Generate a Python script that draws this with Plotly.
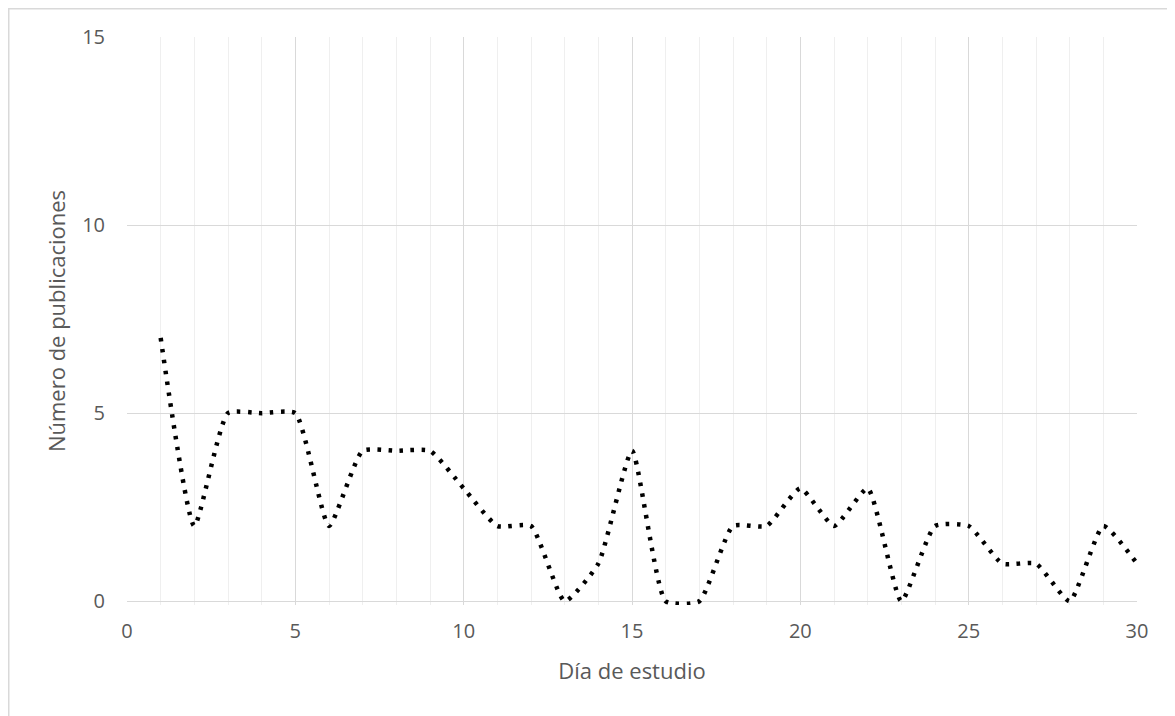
import plotly.graph_objects as go

dias = list(range(1, 31))
publicaciones = [7, 2, 5, 5, 5, 2, 4, 4, 4, 3, 2, 2, 0, 1, 4, 0, 0, 2, 2, 3,
                 2, 3, 0, 2, 2, 1, 1, 0, 2, 1]
x_ticks = [0, 5, 10, 15, 20, 25, 30]
y_ticks = [0, 5, 10, 15]
y_min, y_max = -0.1, 15   # small headroom below 0 so the dotted line is not clipped

# page has an 8px body margin, so the figure is sized/placed accordingly
W, H = 1167, 708
L, R, T, B = 119, 38, 29, 111
pw, ph = W - L - R, H - T - B

fig = go.Figure()
fig.add_trace(go.Scatter(
    x=dias, y=publicaciones, mode="lines",
    line=dict(color="black", width=4.5, dash="3.5px,7.5px", shape="spline", smoothing=0.5),
    cliponaxis=False, showlegend=False, hoverinfo="x+y",
))

font_family = "Open Sans, Liberation Sans, sans-serif"
fig.update_layout(
    width=W, height=H,
    margin=dict(l=L, r=R, t=T, b=B),
    paper_bgcolor="white", plot_bgcolor="white",
    font=dict(family=font_family, color="#595959", size=16),
    xaxis=dict(
        range=[0, 30], tickvals=x_ticks, ticktext=[str(v) for v in x_ticks],
        showgrid=True, gridcolor="#d9d9d9", gridwidth=1.3,
        minor=dict(dtick=1, tick0=0, showgrid=True, gridcolor="#efefef", gridwidth=1),
        zeroline=False, showline=False,
        ticks="", tickfont=dict(size=20, color="#595959"), ticklabelstandoff=12,
        title=dict(text="Día de estudio", font=dict(size=22, color="#595959"), standoff=20),
    ),
    yaxis=dict(
        range=[y_min, y_max], tickvals=y_ticks, ticktext=[str(v) for v in y_ticks],
        showgrid=True, gridcolor="#d9d9d9", gridwidth=1.3,
        zeroline=False, showline=False,
        ticks="", tickfont=dict(size=20, color="#595959"), ticklabelstandoff=21,
        title=dict(text="Número de publicaciones", font=dict(size=22, color="#595959"), standoff=10),
    ),
    shapes=[
        dict(
            type="rect", xref="paper", yref="paper",
            x0=(0.75 - L) / pw, x1=(W + 20 - L) / pw,
            y0=-(H + 20 - (H - B)) / ph, y1=((H - B) - 0.75) / ph,
            line=dict(color="#d9d9d9", width=1.5), fillcolor="rgba(0,0,0,0)", layer="below",
        ),
        dict(
            type="rect", xref="paper", yref="y",
            x0=-0.01, x1=1.01, y0=y_min - 0.05, y1=-0.025,
            line=dict(width=0), fillcolor="white", layer="between",
        ),
    ],
)

fig.write_html("out.html")
